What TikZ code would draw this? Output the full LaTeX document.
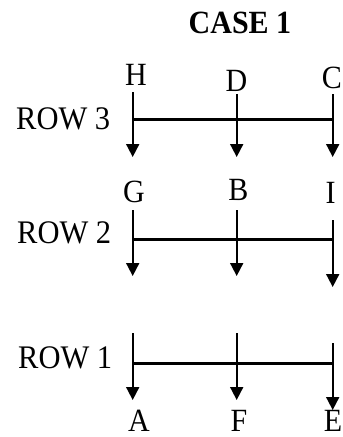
\documentclass[tikz,border=0pt]{standalone}
\usepackage{fontspec}
\setmainfont{Liberation Serif}
\usetikzlibrary{arrows.meta}
\newcommand{\tall}[1]{\scalebox{1}[1.08]{#1}}
\tikzset{
  lbl/.style={inner sep=0pt, anchor=base, font=\fontsize{30}{30}\selectfont},
  rowlbl/.style={inner sep=0pt, anchor=base west, font=\fontsize{30.5}{30.5}\selectfont},
  title/.style={inner sep=0pt, anchor=base, font=\fontsize{30}{30}\selectfont\bfseries},
  bar/.style={line width=2.8pt},
  drop/.style={line width=1.8pt, -{Triangle[width=13pt,length=13pt]}}
}
\begin{document}
\begin{tikzpicture}[x=1pt,y=-1pt]
\useasboundingbox (0,0) rectangle (343,437);
\clip (0,0) rectangle (343,437);
\node[title] (case) at (240,33) {\tall{CASE 1}};
% Row 3
\node[rowlbl] (r3) at (16,129.5) {\tall{ROW 3}};
\node[lbl] (H) at (136,85) {\tall{H}};
\node[lbl] (D) at (236.5,91) {\tall{D}};
\node[lbl] (C) at (332,88) {\tall{C}};
\coordinate (r3a) at (132.7,92);
\coordinate (r3b) at (236.7,94);
\coordinate (r3c) at (332.7,94);
\coordinate (r3at) at (132.7,157);
\coordinate (r3bt) at (236.7,157);
\coordinate (r3ct) at (332.7,157);
\coordinate (r3l) at (132.7,119.3);
\coordinate (r3r) at (333.5,119.3);
\draw[bar] (r3l) -- (r3r);
\draw[drop] (r3a) -- (r3at);
\draw[drop] (r3b) -- (r3bt);
\draw[drop] (r3c) -- (r3ct);
% Row 2
\node[rowlbl] (r2) at (17,243) {\tall{ROW 2}};
\node[lbl] (G) at (134,202) {\tall{G}};
\node[lbl] (B) at (238.5,200) {\tall{B}};
\node[lbl] (I) at (330.5,203) {\tall{I}};
\coordinate (r2a) at (132.7,210);
\coordinate (r2b) at (236.7,210);
\coordinate (r2c) at (332.7,220);
\coordinate (r2at) at (132.7,276);
\coordinate (r2bt) at (236.7,276);
\coordinate (r2ct) at (332.7,287);
\coordinate (r2l) at (132.7,239.3);
\coordinate (r2r) at (333.5,239.3);
\draw[bar] (r2l) -- (r2r);
\draw[drop] (r2a) -- (r2at);
\draw[drop] (r2b) -- (r2bt);
\draw[drop] (r2c) -- (r2ct);
% Row 1
\node[rowlbl] (r1) at (18,368) {\tall{ROW 1}};
\node[lbl] (A) at (139,431) {\tall{A}};
\node[lbl] (F) at (239,431) {\tall{F}};
\node[lbl] (E) at (333,431) {\tall{E}};
\coordinate (r1a) at (132.7,333);
\coordinate (r1b) at (236.7,333);
\coordinate (r1c) at (332.7,343);
\coordinate (r1at) at (132.7,400);
\coordinate (r1bt) at (236.7,400);
\coordinate (r1ct) at (332.7,410);
\coordinate (r1l) at (132.7,363.3);
\coordinate (r1r) at (333.5,363.3);
\draw[bar] (r1l) -- (r1r);
\draw[drop] (r1a) -- (r1at);
\draw[drop] (r1b) -- (r1bt);
\draw[drop] (r1c) -- (r1ct);
\end{tikzpicture}
\end{document}
